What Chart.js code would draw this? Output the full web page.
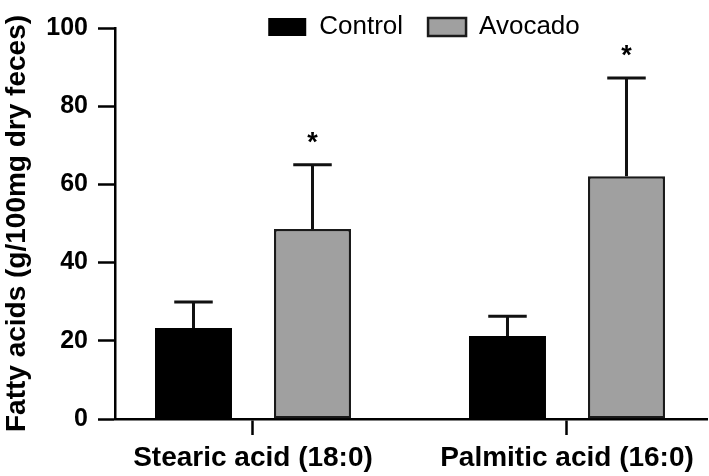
<!DOCTYPE html>
<html>
<head>
<meta charset="utf-8">
<script src="https://cdn.jsdelivr.net/npm/chart.js@4.4.1/dist/chart.umd.min.js"></script>
<style>
  html, body { margin: 0; padding: 0; background: #fff; }
</style>
</head>
<body>
<canvas id="fattyChart" width="709" height="476"></canvas>
<script>
const categories = ['Stearic acid (18:0)', 'Palmitic acid (16:0)'];
const controlMeans = [23.3, 21.2];
const controlErrors = [6.6, 5.1];
const avocadoMeans = [48.6, 62.1];
const avocadoErrors = [16.4, 25.1];
const avocadoMarks = ['*', '*'];
const yTicks = [0, 20, 40, 60, 80, 100];

Chart.defaults.font.family = '"Liberation Sans", Arial, Helvetica, sans-serif';
Chart.defaults.color = '#000';

// error bars (upper only) + significance stars
const errorBars = {
    id: 'errorBars',
    afterDatasetsDraw(chart) {
        const ctx = chart.ctx;
        const yScale = chart.scales.y;
        chart.data.datasets.forEach((ds, i) => {
            const meta = chart.getDatasetMeta(i);
            meta.data.forEach((bar, j) => {
                const top = yScale.getPixelForValue(ds.data[j].y + ds.errors[j]);
                const half = bar.width / 4;
                ctx.save();
                ctx.strokeStyle = '#111';
                ctx.lineWidth = 3;
                ctx.beginPath();
                ctx.moveTo(bar.x, bar.y);
                ctx.lineTo(bar.x, top);
                ctx.moveTo(bar.x - half, top);
                ctx.lineTo(bar.x + half, top);
                ctx.stroke();
                if (ds.marks && ds.marks[j]) {
                    ctx.fillStyle = '#000';
                    ctx.font = 'bold 27px "Liberation Sans", Arial, sans-serif';
                    ctx.textAlign = 'center';
                    ctx.textBaseline = 'alphabetic';
                    ctx.fillText(ds.marks[j], bar.x, top - 14);
                }
                ctx.restore();
            });
        });
    }
};

// legend sits partly over the plot top in the original: shift it right and
// let it draw past its own box
const legendShift = {
    id: 'legendShift',
    afterLayout(chart) {
        chart.legend.left += 13;
        chart.legend.right += 13;
        chart.legend.bottom += 20;
    }
};

new Chart(document.getElementById('fattyChart'), {
    type: 'bar',
    data: {
        datasets: [
            {
                label: 'Control',
                data: controlMeans.map((v, i) => ({ x: i, y: v })),
                errors: controlErrors,
                backgroundColor: '#000',
                borderColor: '#000',
                borderWidth: 0,
                categoryPercentage: 0.758,
                barPercentage: 0.647
            },
            {
                label: 'Avocado',
                data: avocadoMeans.map((v, i) => ({ x: i, y: v })),
                errors: avocadoErrors,
                marks: avocadoMarks,
                backgroundColor: '#a0a0a0',
                borderColor: '#1a1a1a',
                borderWidth: 2.5,
                borderSkipped: false,
                categoryPercentage: 0.758,
                barPercentage: 0.647
            }
        ]
    },
    options: {
        responsive: false,
        animation: false,
        devicePixelRatio: 1,
        layout: { padding: { top: -11, right: 2, bottom: 0, left: 0 } },
        plugins: {
            tooltip: { enabled: false },
            legend: {
                position: 'top',
                fullSize: false,
                maxHeight: 39,
                labels: {
                    boxWidth: 38,
                    boxHeight: 18,
                    padding: 25,
                    color: '#000',
                    font: { size: 26 }
                }
            }
        },
        scales: {
            x: {
                type: 'linear',
                offset: false,
                min: -0.4395,
                max: 1.4459,
                afterBuildTicks: (scale) => {
                    scale.ticks = categories.map((_, i) => ({ value: i }));
                },
                afterFit: (scale) => { scale.height = 57; },
                grid: {
                    offset: false,
                    drawOnChartArea: false,
                    tickLength: 16,
                    tickWidth: 2.5,
                    tickColor: '#000'
                },
                border: { display: true, color: '#000', width: 2.5 },
                ticks: {
                    autoSkip: false,
                    maxRotation: 0,
                    minRotation: 0,
                    padding: 6,
                    color: '#000',
                    font: { size: 28, weight: 'bold' },
                    callback: (value) => categories[value]
                }
            },
            y: {
                min: 0,
                max: 100,
                afterBuildTicks: (scale) => {
                    scale.ticks = yTicks.map(v => ({ value: v }));
                },
                afterFit: (scale) => { scale.width = 115; },
                grid: {
                    drawOnChartArea: false,
                    tickLength: 17,
                    tickWidth: 2.5,
                    tickColor: '#000'
                },
                border: { display: true, color: '#000', width: 2.5 },
                ticks: {
                    padding: 10,
                    color: '#000',
                    font: { size: 25, weight: 'bold' }
                },
                title: {
                    display: true,
                    text: 'Fatty acids (g/100mg dry feces)',
                    color: '#000',
                    font: { size: 28, weight: 'bold' },
                    padding: { top: 0, bottom: 0 }
                }
            }
        }
    },
    plugins: [errorBars, legendShift]
});
</script>
</body>
</html>
